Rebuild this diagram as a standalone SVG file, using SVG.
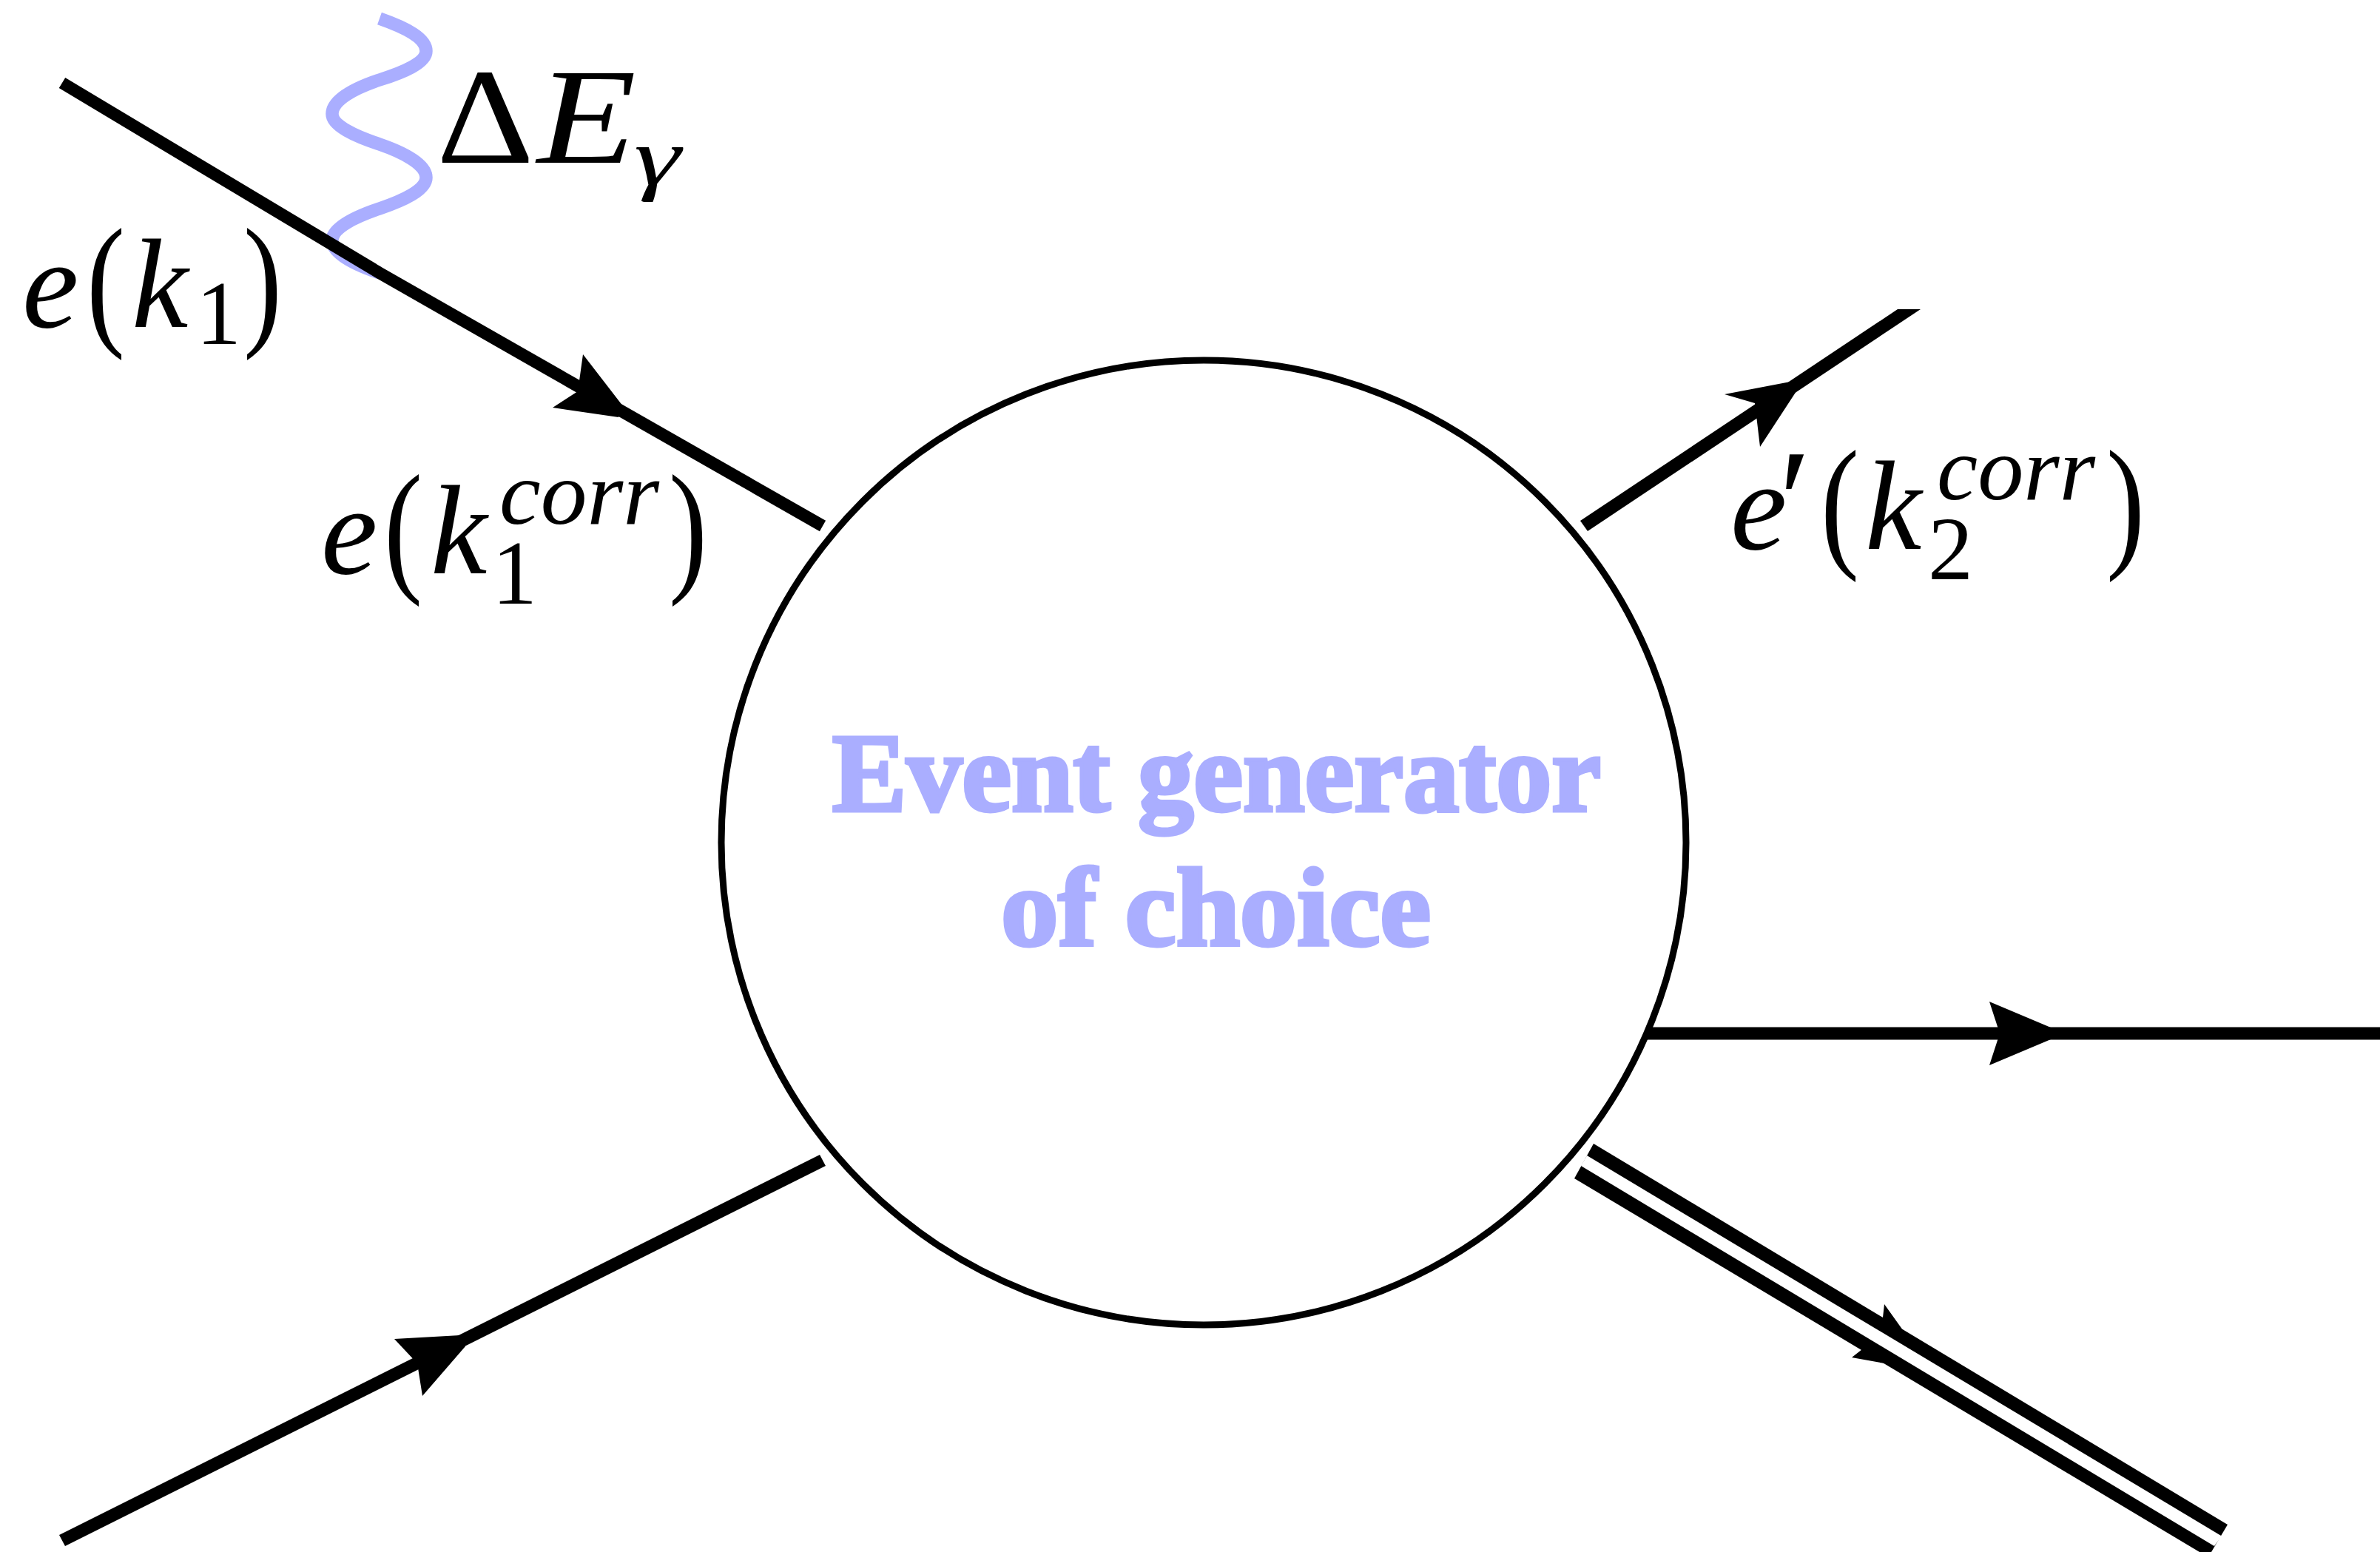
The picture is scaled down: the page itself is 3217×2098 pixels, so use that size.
<svg xmlns="http://www.w3.org/2000/svg" width="3217" height="2098" viewBox="0 0 3217 2098">
<style>
.ln{fill:none;stroke:#000;stroke-width:16.5}
.hd{fill:#000}
.ph{fill:none;stroke:#aaaeff;stroke-width:17.5}
.m{font-family:"Liberation Serif",serif;font-style:italic;fill:#000}
.r{font-family:"Liberation Serif",serif;fill:#000}
.b{font-size:172px}
.p{font-size:197px}
.s{font-size:122px}
.t{font-family:"Liberation Serif",serif;font-weight:700;font-size:150px;fill:#aaaeff;stroke:#aaaeff;stroke-width:5}
</style>
<rect width="3217" height="2098" fill="#fff"/>
<g id="connectors">
<path id="photon" class="ph" d="M513,25 C550,38 576,52 576,69 C576,85 545,98 513,108 C480,119 449,135 449,154 C449,170 480,184 513,195 C545,206 576,222 576,240 C576,257 545,271 513,282 C480,293 449,308 449,325 C449,342 480,358 513,369"/>
<polyline id="e-in" class="ln" points="84,112 513,369 1112,711"/>
<polygon class="hd" points="788,479 842,549 836,564 747,551 781,529"/>
<polygon id="e-out" class="hd" points="2136,704 2146,718 2596,418 2565,418"/>
<polygon class="hd" points="2420,516 2428,529 2379,604 2372,545 2331,533"/>
<polyline id="p-out" class="ln" style="stroke-width:17" points="2200,1397 3217,1397"/>
<polygon class="hd" points="2791,1397 2689,1354 2703,1397 2689,1440"/>
<polygon id="q-in" class="hd" points="80,2075 88,2090 1116,1576 1108,1561"/>
<polygon class="hd" points="622,1805 629,1820 571,1887 564,1843 533,1810"/>
<polygon class="hd" points="2547,1763 2572,1798 2547,1843 2503,1835 2517,1824 2545,1781"/>
<polygon id="double-outer" class="hd" points="2154,1546 2128,1593 2973,2098 2989,2098 3011,2061"/>
<polygon id="double-inner" fill="#fff" points="2145,1562 2137,1576 2993,2090 3003,2076.5"/>
</g>
<g id="blob">
<circle cx="1627" cy="1139" r="652" fill="#fff" stroke="#000" stroke-width="9"/>
<text class="t" x="1125" y="1096" textLength="1039" lengthAdjust="spacingAndGlyphs">Event generator</text>
<text class="t" x="1353" y="1278" textLength="581" lengthAdjust="spacingAndGlyphs">of choice</text>
</g>
<g id="label-photon">
<text class="r" style="font-size:185px" x="590" y="220" textLength="132" lengthAdjust="spacingAndGlyphs">Δ</text>
<text class="m" style="font-size:185px" x="726" y="220" textLength="134" lengthAdjust="spacingAndGlyphs">E</text>
<text class="m" style="font-size:110px" x="857" y="250" textLength="63" lengthAdjust="spacingAndGlyphs">γ</text>
</g>
<g id="label-e-k1">
<text class="m b" x="30" y="442">e</text>
<text class="r p" x="117" y="445" textLength="52" lengthAdjust="spacingAndGlyphs">(</text>
<text class="m b" x="178" y="442">k</text>
<text class="r s" x="265" y="465">1</text>
<text class="r p" x="329" y="445" textLength="52" lengthAdjust="spacingAndGlyphs">)</text>
</g>
<g id="label-e-k1corr">
<text class="m b" x="434" y="775">e</text>
<text class="r p" x="519" y="778" textLength="52" lengthAdjust="spacingAndGlyphs">(</text>
<text class="m b" x="582" y="775">k</text>
<text class="m s" x="675" y="708" textLength="216" lengthAdjust="spacingAndGlyphs">corr</text>
<text class="r s" x="665" y="816">1</text>
<text class="r p" x="904" y="778" textLength="52" lengthAdjust="spacingAndGlyphs">)</text>
</g>
<g id="label-e-prime">
<text class="m b" x="2339" y="742">e</text>
<text class="m" style="font-size:200px" x="2392" y="745">′</text>
<text class="r p" x="2461" y="745" textLength="52" lengthAdjust="spacingAndGlyphs">(</text>
<text class="m b" x="2521" y="742">k</text>
<text class="m s" x="2618" y="675" textLength="214" lengthAdjust="spacingAndGlyphs">corr</text>
<text class="r s" x="2606" y="783">2</text>
<text class="r p" x="2847" y="745" textLength="52" lengthAdjust="spacingAndGlyphs">)</text>
</g>
</svg>
